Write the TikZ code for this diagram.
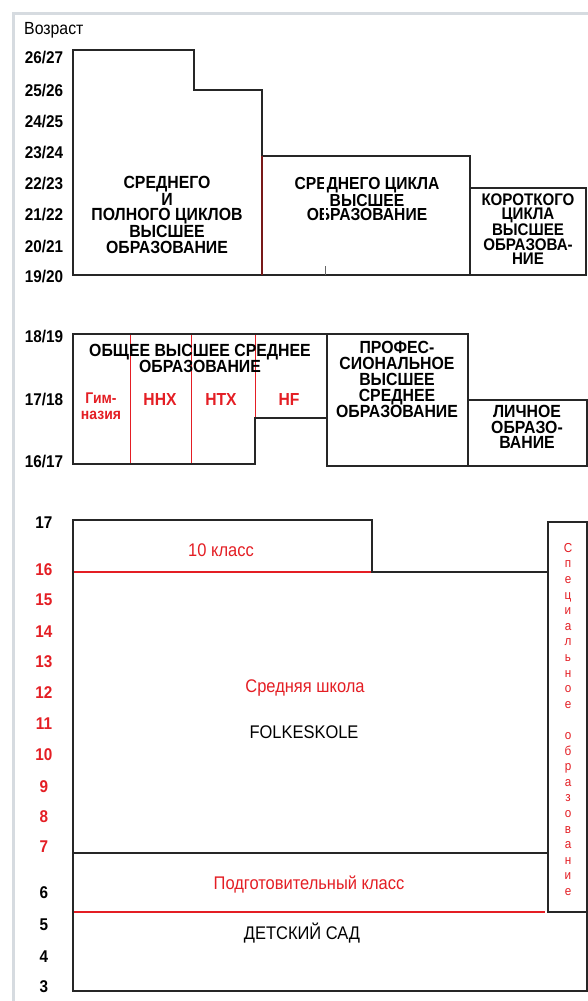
\documentclass[tikz,border=0pt]{standalone}
\usepackage{fontspec}
\setmainfont{Liberation Sans}
\newfontfamily\cond[FakeStretch=0.9]{Liberation Sans}
\definecolor{rd}{RGB}{228,30,36}
\definecolor{drd}{RGB}{120,25,25}
\definecolor{frm}{RGB}{214,219,224}
\tikzset{
  ln/.style={line width=2pt, black!85, line join=miter},
  rl/.style={line width=2.5pt, rd},
  thinred/.style={line width=1pt, rd},
  agelab/.style={font=\cond\bfseries\fontsize{17}{17}\selectfont, inner sep=0},
  bt/.style={align=center, inner sep=0},
  plain/.style={font=\cond\fontsize{18.3}{18}\selectfont, inner sep=0},
}
\begin{document}
\begin{tikzpicture}[x=1pt,y=-1pt]
\useasboundingbox[fill=white] (0,0) rectangle (588,1001);
% frame
\draw[frm, line width=3pt] (13,1001) -- (13,13) -- (588,13);

% ---------- top section ----------
\node[font=\cond\fontsize{17.6}{18}\selectfont, inner sep=0, anchor=west] (vozr) at (24,30) {Возраст};
\node[agelab] (t1) at (44,57.7) {26/27};
\node[agelab] (t2) at (44,90.7) {25/26};
\node[agelab] (t3) at (44,121.7) {24/25};
\node[agelab] (t4) at (44,152.7) {23/24};
\node[agelab] (t5) at (44,184) {22/23};
\node[agelab] (t6) at (44,215) {21/22};
\node[agelab] (t7) at (44,246.7) {20/21};
\node[agelab] (t8) at (44,276.7) {19/20};

\draw[ln] (262,156) -- (262,90) -- (194,90) -- (194,50) -- (73,50) -- (73,275) -- (586,275) -- (586,188) -- (470,188);
\draw[ln] (262,156) -- (470,156) -- (470,275);
\draw[line width=2pt, drd] (262,156) -- (262,275);

\node[bt, font=\cond\bfseries\fontsize{17.6}{15.4}\selectfont] (full) at (167,215)
  {СРЕДНЕГО\\И\\ПОЛНОГО ЦИКЛОВ\\ВЫСШЕЕ\\ОБРАЗОВАНИЕ};
\node[bt, font=\cond\bfseries\fontsize{17.4}{14}\selectfont] (mid) at (367,199)
  {СРЕДНЕГО ЦИКЛА\\ВЫСШЕЕ\\ОБРАЗОВАНИЕ};
\node[bt, font=\cond\bfseries\fontsize{16.8}{14.2}\selectfont] (short) at (528,229)
  {КОРОТКОГО\\ЦИКЛА\\ВЫСШЕЕ\\ОБРАЗОВА-\\НИЕ};
\draw[white, line width=2.5pt] (325,176) -- (325,222);
\draw[black!60, line width=1pt] (325,266) -- (325,275);

% ---------- middle section ----------
\node[agelab] (m1) at (44,337) {18/19};
\node[agelab] (m2) at (44,400) {17/18};
\node[agelab] (m3) at (44,462) {16/17};

\draw[thinred] (130,334) -- (130,464);
\draw[thinred] (191,334) -- (191,464);
\draw[thinred] (255,334) -- (255,418);
\draw[ln] (327,334) -- (73,334) -- (73,464) -- (255,464) -- (255,418) -- (327,418);
\draw[ln] (327,466) rectangle (468,334);
\draw[ln] (468,400) -- (587,400) -- (587,466) -- (468,466);

\node[bt, font=\cond\bfseries\fontsize{17.6}{14}\selectfont] (obsh) at (200,358.5)
  {ОБЩЕЕ ВЫСШЕЕ СРЕДНЕЕ\\ОБРАЗОВАНИЕ};
\node[bt, text=rd, font=\cond\bfseries\fontsize{15.5}{16}\selectfont] (gim) at (101,406) {Гим-\\назия};
\node[bt, text=rd, font=\cond\bfseries\fontsize{17.4}{16}\selectfont] (hhx) at (160,400) {ННХ};
\node[bt, text=rd, font=\cond\bfseries\fontsize{17.4}{16}\selectfont] (htx) at (221,400) {НТХ};
\node[bt, text=rd, font=\cond\bfseries\fontsize{17.4}{16}\selectfont] (hf) at (289,400) {HF};
\node[bt, font=\cond\bfseries\fontsize{17.6}{16}\selectfont] (prof) at (397,379.5)
  {ПРОФЕС-\\СИОНАЛЬНОЕ\\ВЫСШЕЕ\\СРЕДНЕЕ\\ОБРАЗОВАНИЕ};
\node[bt, font=\cond\bfseries\fontsize{17.6}{15.5}\selectfont] (lich) at (527,427)
  {ЛИЧНОЕ\\ОБРАЗО-\\ВАНИЕ};

% ---------- bottom section ----------
\node[agelab] (b17) at (44,523) {17};
\node[agelab, text=rd] (b16) at (44,570) {16};
\node[agelab, text=rd] (b15) at (44,600) {15};
\node[agelab, text=rd] (b14) at (44,632) {14};
\node[agelab, text=rd] (b13) at (44,662) {13};
\node[agelab, text=rd] (b12) at (44,693) {12};
\node[agelab, text=rd] (b11) at (44,724) {11};
\node[agelab, text=rd] (b10) at (44,755) {10};
\node[agelab, text=rd] (b9) at (44,787) {9};
\node[agelab, text=rd] (b8) at (44,817) {8};
\node[agelab, text=rd] (b7) at (44,847) {7};
\node[agelab] (b6) at (44,893) {6};
\node[agelab] (b5) at (44,925) {5};
\node[agelab] (b4) at (44,957) {4};
\node[agelab] (b3) at (44,987) {3};

\draw[rl] (73,572) -- (372,572);
\draw[rl] (73,912) -- (545,912);
\draw[ln] (548,572) -- (372,572) -- (372,520) -- (73,520) -- (73,991) -- (588,991);
\draw[ln] (73,853) -- (548,853);
\draw[ln] (548,522) rectangle (587,912);
\draw[ln] (587,912) -- (587,991);

\node[plain, text=rd] (kl10) at (221,550) {10 класс};
\node[plain, text=rd] (sred) at (305,688) {Средняя школа};
\node[plain] (folk) at (304,732) {FOLKESKOLE};
\node[plain, text=rd] (podg) at (309,885) {Подготовительный класс};
\node[plain] (sad) at (302,933) {ДЕТСКИЙ САД};
\node[bt, text=rd, font=\cond\fontsize{13}{15.6}\selectfont, anchor=north] (spec) at (568,543)
  {С\\п\\е\\ц\\и\\а\\л\\ь\\н\\о\\е\\[15.6pt]о\\б\\р\\а\\з\\о\\в\\а\\н\\и\\е};
\end{tikzpicture}
\end{document}
